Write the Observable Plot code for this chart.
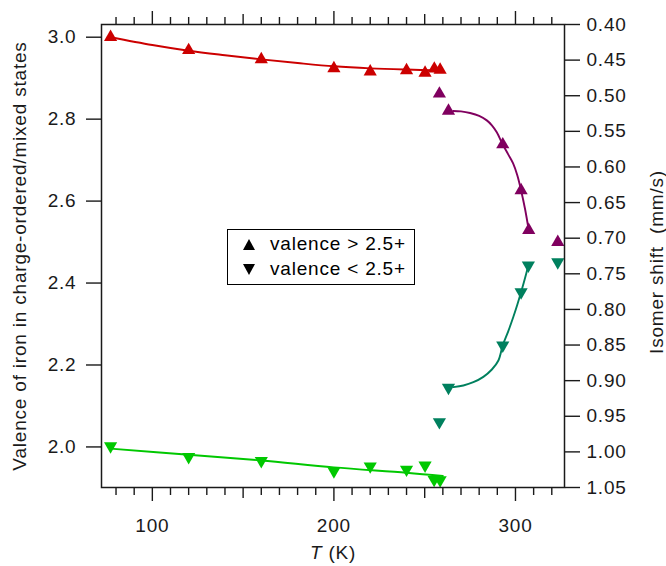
<!DOCTYPE html>
<html>
<head>
<meta charset="utf-8">
<script src="https://cdn.jsdelivr.net/npm/d3@7"></script>
<script src="https://cdn.jsdelivr.net/npm/@observablehq/plot@0.6"></script>
<style>
  body { margin: 0; background: #fff; }
  #wrap { position: relative; width: 666px; height: 566px; font-family: "Liberation Sans", Arial, Helvetica, sans-serif; }
  #legend { position: absolute; left: 227px; top: 229px; width: 186px; height: 54px; border: 1px solid #000; background: #fff; font-size: 19px; letter-spacing: 0.8px; color: #000; }
  #legend .row { position: absolute; left: 0; height: 22px; line-height: 22px; white-space: nowrap; }
  #legend svg { position: absolute; left: 15px; top: 6px; }
  #legend span { position: absolute; left: 42px; top: 0; }
</style>
</head>
<body>
<div id="wrap">
  <div id="chart"></div>
  <div id="legend">
    <div class="row" style="top:3px"><svg width="12" height="11"><polygon points="6,0 12,11 0,11" fill="#000"/></svg><span>valence&nbsp;&gt;&nbsp;2.5+</span></div>
    <div class="row" style="top:28px"><svg width="12" height="11"><polygon points="0,0 12,0 6,11" fill="#000"/></svg><span>valence&nbsp;&lt;&nbsp;2.5+</span></div>
  </div>
</div>
<script>
// ---- data ----
// red: valence > 2.5+ (charge-ordered, low T)
const redT = [77, 120, 160, 200, 220, 240, 250.2, 255.3, 258.5];
const redV = [3.000, 2.968, 2.946, 2.924, 2.916, 2.919, 2.913, 2.923, 2.920];
// purple: valence > 2.5+ (mixed, high T)
const purT = [258.1, 263.1, 293.0, 303.1, 307.3, 323.3];
const purV = [2.862, 2.820, 2.738, 2.626, 2.529, 2.500];
// dark green: valence < 2.5+ (mixed, high T)
const dgrT = [258.1, 263.1, 293.0, 303.1, 307.1, 323.3];
const dgrV = [2.061, 2.145, 2.248, 2.378, 2.443, 2.451];
// light green: valence < 2.5+ (charge-ordered, low T)
const lgrT = [77, 120, 160, 200, 220, 240, 250.2, 255.2, 258.5];
const lgrV = [2.002, 1.976, 1.966, 1.941, 1.953, 1.945, 1.955, 1.920, 1.919];

// guide-to-the-eye curves
const redFitT = [77, 100, 120, 140, 160, 180, 200, 220, 240, 259];
const redFitV = [3.000, 2.981, 2.967, 2.956, 2.946, 2.937, 2.929, 2.924, 2.921, 2.919];
const purFitT = [265.7, 270, 275, 280, 284.2, 287, 289.7, 293, 296, 298.7, 301, 303.1, 305.3, 307.3];
const purFitV = [2.820, 2.819, 2.815, 2.808, 2.797, 2.785, 2.768, 2.738, 2.714, 2.692, 2.663, 2.626, 2.580, 2.529];
const dgrFitT = [265.8, 271.3, 276.8, 282.3, 287, 290.6, 293, 296, 298.8, 301, 303.1, 305.2, 307.1];
const dgrFitV = [2.146, 2.150, 2.158, 2.171, 2.189, 2.211, 2.248, 2.282, 2.317, 2.347, 2.378, 2.411, 2.443];
const lgrFitT = [77, 120, 160, 200, 240, 260];
const lgrFitV = [1.996, 1.981, 1.967, 1.950, 1.937, 1.929];

// axes
const xDomain = [72, 327];
const yDomain = [1.901, 3.031];           // valence
const shiftDomain = [0.40, 1.05];         // isomer shift (mm/s), top -> bottom
const xMajor = [100, 200, 300];
const xMid = [150, 250];
const xMinor = [80, 90, 110, 120, 130, 140, 160, 170, 180, 190, 210, 220, 230, 240, 260, 270, 280, 290, 310, 320];
const yTicks = [2.0, 2.2, 2.4, 2.6, 2.8, 3.0];
const shiftTicks = [0.40, 0.45, 0.50, 0.55, 0.60, 0.65, 0.70, 0.75, 0.80, 0.85, 0.90, 0.95, 1.00, 1.05];

const colors = { red: "#cc0000", pur: "#80005f", dgr: "#00805e", lgr: "#00c800" };

// ---- build ----
const zip = (T, V) => T.map((t, i) => ({ T: t, v: V[i] }));
const toV = s => yDomain[1] - (s - shiftDomain[0]) * (yDomain[1] - yDomain[0]) / (shiftDomain[1] - shiftDomain[0]);
const toS = v => shiftDomain[0] + (yDomain[1] - v) * (shiftDomain[1] - shiftDomain[0]) / (yDomain[1] - yDomain[0]);

const axisColor = "#1a1a1a";
const font = "'Liberation Sans', Arial, Helvetica, sans-serif";
const blank = () => "";

const lineOpts = (c) => ({ x: "T", y: "v", stroke: c, strokeWidth: 1.9, curve: "catmull-rom" });
const upOpts = (c) => ({ x: "T", y: "v", symbol: "triangle", r: 4.9, fill: c, stroke: "none" });
const downOpts = (c) => ({ x: "T", y: "v", symbol: "triangle", r: 4.9, rotate: 180, fill: c, stroke: "none" });

const chart = Plot.plot({
  width: 666,
  height: 566,
  marginLeft: 101,
  marginRight: 102,
  marginTop: 24,
  marginBottom: 79,
  style: { fontFamily: font, fontSize: "19px", color: axisColor, background: "#fff", overflow: "visible" },
  x: { domain: xDomain, label: null },
  y: { domain: yDomain, label: null },
  marks: [
    Plot.line(zip(redFitT, redFitV), lineOpts(colors.red)),
    Plot.line(zip(purFitT, purFitV), lineOpts(colors.pur)),
    Plot.line(zip(dgrFitT, dgrFitV), lineOpts(colors.dgr)),
    Plot.line(zip(lgrFitT, lgrFitV), lineOpts(colors.lgr)),
    Plot.dot(zip(redT, redV), upOpts(colors.red)),
    Plot.dot(zip(purT, purV), upOpts(colors.pur)),
    Plot.dot(zip(dgrT, dgrV), downOpts(colors.dgr)),
    Plot.dot(zip(lgrT, lgrV), downOpts(colors.lgr)),
    Plot.frame({ stroke: axisColor, strokeWidth: 1.5 }),
    // bottom axis
    Plot.axisX({ anchor: "bottom", ticks: xMajor, tickSize: 14, tickPadding: 17, tickFormat: d => String(d), label: null, strokeWidth: 1.4, color: axisColor, fontSize: 19 }),
    Plot.axisX({ anchor: "bottom", ticks: xMid, tickSize: 11, tickFormat: blank, label: null, strokeWidth: 1.4 }),
    Plot.axisX({ anchor: "bottom", ticks: xMinor, tickSize: 8, tickFormat: blank, label: null, strokeWidth: 1.4 }),
    // top axis (ticks only)
    Plot.axisX({ anchor: "top", ticks: xMajor, tickSize: 14, tickFormat: blank, label: null, strokeWidth: 1.4 }),
    Plot.axisX({ anchor: "top", ticks: xMid, tickSize: 11, tickFormat: blank, label: null, strokeWidth: 1.4 }),
    Plot.axisX({ anchor: "top", ticks: xMinor, tickSize: 8, tickFormat: blank, label: null, strokeWidth: 1.4 }),
    // left axis: valence
    Plot.axisY({ anchor: "left", ticks: yTicks, tickSize: 15, tickPadding: 10, tickFormat: d => d.toFixed(1), label: null, strokeWidth: 1.4, fontSize: 19 }),
    // right axis: isomer shift
    Plot.axisY({ anchor: "right", ticks: shiftTicks.map(toV), tickSize: 15, tickPadding: 7, tickFormat: v => toS(v).toFixed(2), label: null, strokeWidth: 1.4, fontSize: 19 }),
    // axis titles
    Plot.text(["Valence of iron in charge-ordered/mixed states"], { frameAnchor: "left", dx: -82, rotate: -90, lineAnchor: "middle", textAnchor: "middle", fontSize: 19, fill: axisColor }),
    Plot.text(["Isomer shift  (mm/s)"], { frameAnchor: "right", dx: 92, dy: 6, rotate: -90, lineAnchor: "middle", textAnchor: "middle", fontSize: 19, fill: axisColor }),
    Plot.text(["T (K)"], { frameAnchor: "bottom", dy: 65, lineAnchor: "middle", textAnchor: "middle", fontSize: 19, fill: axisColor })
  ]
});

// italic T in x title, keep spaces
chart.querySelectorAll("text").forEach(t => {
  if (t.textContent === "T (K)") {
    t.textContent = "";
    const ns = "http://www.w3.org/2000/svg";
    const a = document.createElementNS(ns, "tspan");
    a.setAttribute("font-style", "italic");
    a.textContent = "T";
    const b = document.createElementNS(ns, "tspan");
    b.textContent = " (K)";
    t.appendChild(a); t.appendChild(b);
  }
});
chart.style.whiteSpace = "pre";
chart.style.letterSpacing = "0.8px";
document.getElementById("chart").appendChild(chart);
</script>
</body>
</html>
